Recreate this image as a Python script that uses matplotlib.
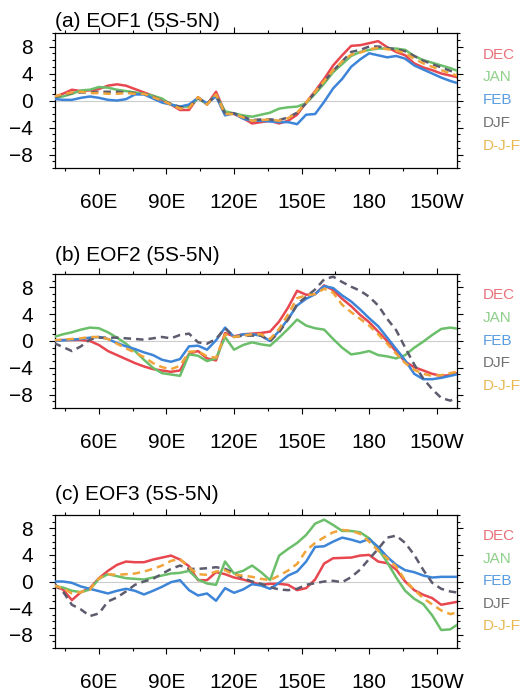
import matplotlib
matplotlib.use('Agg')
import matplotlib.pyplot as plt
from matplotlib.ticker import MultipleLocator

plt.rcParams['font.family'] = ['Liberation Sans', 'DejaVu Sans']

# longitude (deg E), 4 degree steps from 40E to 140W (=220)
lon = list(range(40, 221, 4))

# (a) EOF1
a_dec = [0.5, 1.0, 1.6, 1.4, 1.5, 1.7, 2.2, 2.4, 2.2, 1.7, 1.2, 0.7, 0.1, -0.6, -1.4, -1.4, 0.5, -0.6, 1.3,
         -1.8, -2.0, -2.6, -3.4, -3.2, -3.0, -3.4, -3.0, -2.1, -0.3, 1.4, 3.2, 5.2, 6.7, 8.1, 8.2, 8.5, 8.8,
         7.9, 7.2, 6.7, 5.5, 4.9, 4.5, 4.0, 3.7, 3.4]
a_jan = [0.5, 0.6, 1.0, 1.5, 1.6, 2.0, 1.9, 1.6, 1.4, 1.2, 1.0, 0.7, 0.3, -0.6, -0.9, -0.9, 0.3, -0.5, 0.8,
         -1.6, -1.9, -2.2, -2.4, -2.1, -1.8, -1.2, -1.0, -0.9, -0.4, 1.0, 2.5, 4.2, 5.4, 6.6, 7.2, 7.5, 7.7,
         7.7, 7.7, 7.5, 6.6, 6.0, 5.6, 5.2, 4.8, 4.3]
a_feb = [0.25, 0.1, 0.1, 0.4, 0.6, 0.4, 0.1, 0.0, 0.2, 0.9, 0.9, 0.3, -0.3, -0.6, -0.9, -0.6, 0.4, -0.4, 0.6,
         -2.2, -1.9, -2.7, -3.0, -3.0, -3.1, -3.2, -3.2, -3.5, -2.1, -2.0, -0.2, 1.8, 3.2, 5.0, 6.1, 7.0, 6.7,
         6.4, 6.6, 6.2, 5.2, 4.6, 4.0, 3.4, 2.9, 2.5]
a_djf = [0.5, 0.8, 1.1, 1.2, 1.2, 1.3, 1.3, 1.3, 1.2, 1.1, 1.0, 0.6, 0.0, -0.5, -1.0, -1.0, 0.4, -0.5, 0.8,
         -1.9, -1.9, -2.4, -2.9, -2.8, -2.8, -2.9, -2.5, -1.8, -0.4, 1.2, 2.8, 4.4, 5.8, 7.2, 7.5, 8.0, 8.0,
         7.8, 7.6, 7.3, 6.6, 5.9, 5.4, 4.9, 4.4, 4.0]
a_d_j_f = [0.6, 0.9, 1.2, 1.3, 1.1, 1.1, 1.0, 1.0, 1.1, 1.0, 1.0, 0.5, 0.0, -0.6, -1.2, -1.1, 0.5, -0.6, 0.9,
           -2.0, -2.0, -2.5, -3.0, -2.9, -2.8, -3.0, -2.6, -1.8, -0.3, 1.3, 2.9, 4.5, 5.8, 6.8, 7.1, 7.6, 7.8,
           7.6, 7.4, 7.0, 6.2, 5.5, 5.0, 4.5, 4.0, 3.6]

# (b) EOF2
b_dec = [0.1, 0.15, 0.15, 0.15, 0.0, -0.6, -1.5, -2.1, -2.7, -3.3, -3.8, -4.2, -4.4, -4.6, -4.4, -1.9, -1.5,
         -2.6, -2.9, 1.2, 0.7, 1.0, 1.1,
         1.2, 1.4, 2.9, 5.0, 7.5, 6.9, 7.0, 8.3, 7.6, 6.3, 5.2, 3.9, 2.8, 1.4, 0.0, -1.6, -3.1, -3.9, -4.4,
         -4.9, -5.2, -5.1, -4.7]
b_jan = [0.6, 1.0, 1.3, 1.7, 2.0, 1.9, 1.3, 0.5, -0.4, -1.5, -2.8, -4.0, -4.8, -5.0, -5.2, -2.0, -2.2, -3.0,
         -2.6, 0.6, -1.3, -0.6, -0.2,
         -0.5, -0.7, 0.5, 1.8, 3.2, 2.3, 1.9, 1.7, 0.3, -1.0, -2.0, -1.8, -1.5, -2.1, -2.3, -2.6, -2.1, -1.0,
         -0.1, 0.9, 1.8, 2.0, 1.8]
b_feb = [0.0, 0.1, 0.2, 0.3, 0.5, 0.6, 0.3, -0.3, -0.8, -1.2, -1.7, -2.1, -2.8, -3.1, -2.7, -0.8, -0.7, -1.3,
         0.1, 2.0, 0.6, 1.0, 1.0,
         0.8, 0.0, 1.5, 3.3, 5.3, 6.3, 7.0, 8.2, 7.9, 6.8, 5.9, 4.7, 3.4, 2.2, 0.5, -1.2, -2.9, -4.9, -5.7,
         -5.7, -5.5, -5.2, -4.9]
b_djf = [-0.3, -0.9, -1.5, -0.8, 0.2, 0.5, 0.5, 0.5, 0.4, 0.3, 0.2, 0.4, 0.6, 0.4, 0.9, 1.1, -0.2, -0.4, 0.3,
         1.9, 0.6, 0.8, 0.8,
         0.8, 0.0, 1.3, 3.2, 5.5, 6.6, 7.7, 9.2, 9.6, 8.8, 8.1, 7.5, 6.6, 5.3, 3.3, 1.6, -1.0, -3.5, -5.6,
         -7.2, -8.5, -8.9, -8.4]
b_d_j_f = [0.1, 0.2, 0.3, 0.4, 0.6, 0.6, 0.3, -0.4, -1.1, -1.7, -2.4, -3.3, -3.9, -4.2, -3.7, -1.6, -1.5, -2.3,
           -2.5, 1.0, 0.6, 0.8, 1.0,
           1.0, 0.3, 1.8, 4.0, 6.4, 6.8, 7.0, 7.8, 7.2, 5.4, 4.3, 3.3, 2.3, 1.0, -0.4, -1.9, -3.3, -4.3, -4.9,
           -5.2, -5.1, -4.8, -4.5]

# (c) EOF3
c_dec = [-0.7, -1.2, -2.8, -1.6, -1.0, 0.5, 1.6, 2.5, 3.0, 2.9, 2.9, 3.3, 3.6, 3.9, 3.3, 2.3, 0.2, 0.2, 1.4,
         1.1, 0.6, 0.3, -0.1,
         -0.5, -0.35, -0.35, -0.5, -1.3, -1.0, 0.3, 2.7, 3.5, 3.55, 3.6, 3.9, 4.0, 3.0, 2.75, 1.8, 0.0, -1.3,
         -2.0, -2.5, -3.5, -3.25, -3.0]
c_jan = [-0.7, -0.9, -1.4, -1.6, -1.2, 0.4, 1.1, 0.8, 0.5, 0.4, 0.3, 0.6, 0.9, 1.2, 1.3, 1.6, 0.3, -0.3, -0.5,
         3.0, 1.2, 1.6, 2.4,
         1.4, 0.2, 3.9, 4.9, 5.8, 7.0, 8.7, 9.3, 8.5, 7.6, 7.6, 7.4, 6.5, 4.9, 2.9, 0.6, -1.4, -2.6, -3.4,
         -5.1, -7.3, -7.2, -6.3]
c_feb = [0.0, 0.0, -0.2, -0.75, -1.1, -1.45, -1.8, -1.4, -1.1, -1.4, -1.95, -1.4, -0.8, -0.1, 0.2, -1.3, -2.1,
         -1.8, -2.9, -1.0, -1.7, -1.2, -0.4,
         -0.6, -1.1, -0.2, 0.9, 1.5, 3.0, 5.2, 5.3, 6.0, 6.6, 6.3, 5.9, 6.4, 5.2, 3.7, 2.5, 1.7, 1.4, 0.9,
         0.6, 0.7, 0.7, 0.7]
c_djf = [-0.3, -1.5, -3.5, -4.2, -5.2, -4.8, -3.0, -2.4, -1.5, -0.5, 0.0, 0.4, 1.15, 1.9, 2.4, 1.9, 1.9, 2.0,
         2.15, 1.9, 1.25, 0.5, 0.0,
         -0.35, -0.85, -1.2, -1.3, -1.1, -0.5, -0.25, 0.0, 0.1, -0.1, 0.65, 1.8, 3.4, 4.9, 6.6, 6.9, 5.8, 4.0,
         1.75, -0.2, -1.1, -1.5, -1.7]
c_d_j_f = [-0.6, -1.0, -1.8, -1.6, -1.2, 0.5, 1.1, 1.0, 1.1, 1.2, 1.5, 1.9, 2.4, 3.1, 3.4, 2.1, 1.1, 1.0, 1.5,
           1.7, 1.0, 0.9, 0.7,
           0.4, 0.2, 0.9, 1.65, 2.65, 4.65, 5.8, 6.65, 7.4, 7.75, 7.65, 7.15, 6.0, 4.65, 3.5, 2.25, 0.15, -1.25,
           -2.5, -3.45, -4.35, -4.9, -4.6]

titles = ['(a) EOF1 (5S-5N)', '(b) EOF2 (5S-5N)', '(c) EOF3 (5S-5N)']
names = ['DEC', 'JAN', 'FEB', 'DJF', 'D-J-F']
line_colors = ['#e8474f', '#6cbf6a', '#3d85d8', '#5c5c6e', '#f0a43a']
text_colors = ['#e8707a', '#8fd08a', '#5a9ee0', '#707070', '#e8b850']
styles = ['-', '-', '-', (0, (3, 2)), (0, (3, 2))]
panels = [[a_dec, a_jan, a_feb, a_djf, a_d_j_f],
          [b_dec, b_jan, b_feb, b_djf, b_d_j_f],
          [c_dec, c_jan, c_feb, c_djf, c_d_j_f]]

xticks = [60, 90, 120, 150, 180, 210]
xlabels = ['60E', '90E', '120E', '150E', '180', '150W']

fig = plt.figure(figsize=(5.22, 6.94), dpi=100)
boxes = [[0.1054, 0.7579, 0.7701, 0.1945],
         [0.1054, 0.4121, 0.7701, 0.1931],
         [0.1054, 0.0663, 0.7701, 0.1916]]
title_y = [1.015, 1.07, 1.08]

for i in range(3):
    ax = fig.add_axes(boxes[i])
    ax.axhline(0, color='#cccccc', lw=0.8, zorder=1)
    for j in range(5):
        ax.plot(lon, panels[i][j], color=line_colors[j], linestyle=styles[j], lw=1.8, zorder=2 + j)
    ax.set_xlim(40.5, 219)
    ax.set_ylim(-10, 10)
    ax.set_xticks(xticks)
    ax.set_xticklabels(xlabels)
    ax.set_yticks([-8, -4, 0, 4, 8])
    ax.xaxis.set_minor_locator(MultipleLocator(15))
    ax.yaxis.set_minor_locator(MultipleLocator(1))
    ax.tick_params(which='both', direction='out', top=True, right=True, labelsize=15, width=0.8)
    ax.tick_params(axis='x', which='major', length=4, pad=14)
    ax.tick_params(axis='y', which='major', length=4, pad=12)
    ax.tick_params(which='minor', length=2.2)
    for s in ax.spines.values():
        s.set_linewidth(0.9)
    ax.text(0, title_y[i], titles[i], transform=ax.transAxes, fontsize=15, ha='left', va='bottom')
    for j in range(5):
        ax.text(1.065, 0.84 - j * 0.169, names[j], transform=ax.transAxes, fontsize=11,
                color=text_colors[j], ha='left', va='center')

fig.savefig('out.png', dpi=100)
